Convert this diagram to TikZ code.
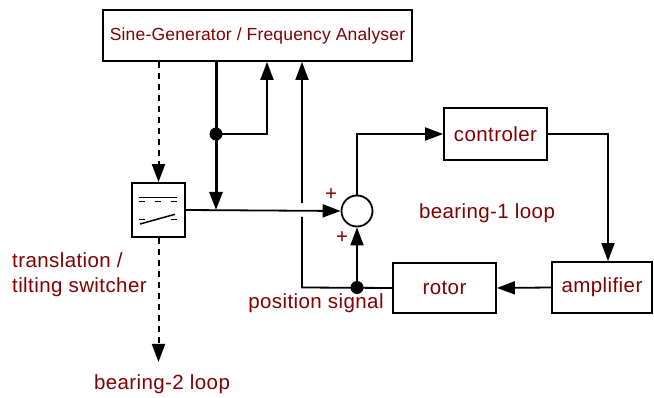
\documentclass[tikz,border=0pt]{standalone}
\usepackage{fontspec}
\setmainfont{Liberation Sans}
\newfontfamily\lblfont[LetterSpace=2]{Liberation Sans}
\newfontfamily\genfont[LetterSpace=1]{Liberation Sans}
\usetikzlibrary{arrows.meta,calc}
\definecolor{lbl}{RGB}{128,0,0}
\begin{document}
\begin{tikzpicture}[x=1pt,y=-1pt,
  box/.style={draw,line width=1.8pt,rectangle,inner sep=0pt,text=lbl,font=\lblfont\fontsize{20.5}{24}\selectfont},
  conn/.style={line width=1.8pt},
  thickconn/.style={line width=3pt},
  arr/.style={-{Triangle[length=18pt,width=13pt]}},
  dotline/.style={line width=2pt,dash pattern=on 6pt off 5pt},
  lab/.style={text=lbl,font=\lblfont\fontsize{20.5}{24}\selectfont,inner sep=0pt},
  jdot/.style={circle,fill=black,inner sep=0pt,minimum size=13pt}
]
\useasboundingbox (0,0) rectangle (654,398);
% blocks
\node[box,minimum width=309pt,minimum height=51pt,font=\genfont\fontsize{17.5}{21}\selectfont] (gen) at (257.5,35.5) {Sine-Generator / Frequency Analyser};
\node[box,minimum width=53pt,minimum height=54pt] (sw) at (158.5,210) {};
\node[draw,circle,line width=1.8pt,minimum size=31pt,inner sep=0pt] (sum) at (357,211) {};
\node[box,minimum width=103pt,minimum height=52pt] (ctrl) at (495.5,134) {controler};
\node[box,minimum width=100pt,minimum height=51pt] (amp) at (602,287.5) {amplifier};
\node[box,minimum width=103pt,minimum height=50pt] (rot) at (444.5,288) {rotor};
% switch symbol
\begin{scope}[shift={(sw.center)},line width=1.5pt]
  \draw (-19.5,-12.3) -- (18.5,-12.3);
  \draw (-19.5,-8.3) -- (-13.5,-8.3) (-3.5,-8.3) -- (2.5,-8.3) (12.5,-8.3) -- (18.5,-8.3);
  \draw (-19.5,9.3) -- (-13.5,9.3) (12.5,9.3) -- (18.5,9.3);
  \draw (-18.5,14) -- (16.5,4.3);
\end{scope}
% coordinates
\coordinate (j1) at (216,134);
\coordinate (r1) at (267,134);
\coordinate (c2) at (608,134);
\coordinate (p2) at (302,287.5);
\coordinate (pos) at (357,287.5);
\coordinate (end2) at (157,362);
% connectors
\draw[dotline,arr] (gen.south -| sw.north) -- (sw.north);
\draw[dotline,arr] (sw.south) -- (sw.south |- end2);
\draw[conn,arr] (sw.east) -- (sum.west);
\draw[thickconn] (gen.south -| j1) -- (j1);
\draw[thickconn,arr] (j1) -- (j1 |- sw.east);
\draw[conn,arr] (j1) -- (r1) -- (r1 |- gen.south);
\draw[conn,arr] (sum.north) |- (ctrl.west);
\draw[conn,arr] (ctrl.east) -- (c2) -- (c2 |- amp.north);
\draw[conn,arr] (amp.west) -- (rot.east);
\draw[conn] (rot.west) -- (p2) -- ($(p2 |- sw.east)+(0,7)$);
\draw[conn,arr] ($(p2 |- sw.east)+(0,-7)$) -- (p2 |- gen.south);
\draw[conn,arr] (pos) -- (sum.south);
\node[jdot] (d1) at (j1) {};
\node[jdot] (d2) at (pos) {};
% labels
\node[lab] (plus1) at (331,195) {+};
\node[lab] (plus2) at (342,238) {+};
\node[lab] (b1) at (487,213) {bearing-1 loop};
\node[lab] (ps) at (316,303) {position signal};
\node[lab,anchor=west,align=left,font=\lblfont\fontsize{20.5}{25}\selectfont] (tr) at (12,274.5) {translation /\\tilting switcher};
\node[lab] (b2) at (162,384) {bearing-2 loop};
\end{tikzpicture}
\end{document}
